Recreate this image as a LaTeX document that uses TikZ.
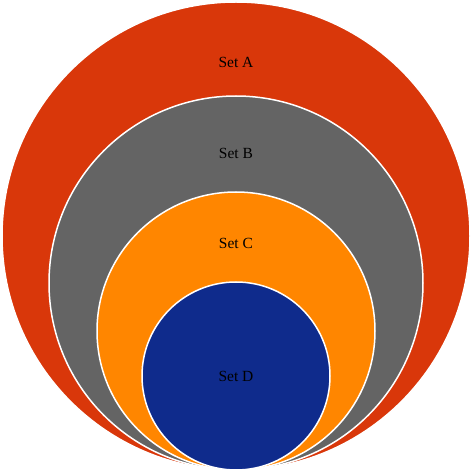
\documentclass[tikz,border=0pt]{standalone}
\usepackage{fontspec}
\setmainfont{Liberation Serif}
\definecolor{setA}{HTML}{D9370A}
\definecolor{setB}{HTML}{646464}
\definecolor{setC}{HTML}{FF8600}
\definecolor{setD}{HTML}{0F2B8C}
\begin{document}
\begin{tikzpicture}[x=1pt,y=1pt,line join=round,font=\fontsize{15.5}{18}\selectfont]
			\useasboundingbox (0,0) rectangle (472,472);
			\path
			(236,236) coordinate (A)
			(236,189) coordinate (B)
			(236,141) coordinate (C)
			(236,96) coordinate (D)
			;
			\foreach \s/\r in {A/234,B/187,C/139,D/94}
			\fill[set\s,draw=white,line width=1.5pt] (\s) circle (\r);
			\foreach \s/\y in {A/410,B/319,C/229,D/96}
			\node (l\s) at (236,\y) {Set \s};
	\end{tikzpicture}
\end{document}
